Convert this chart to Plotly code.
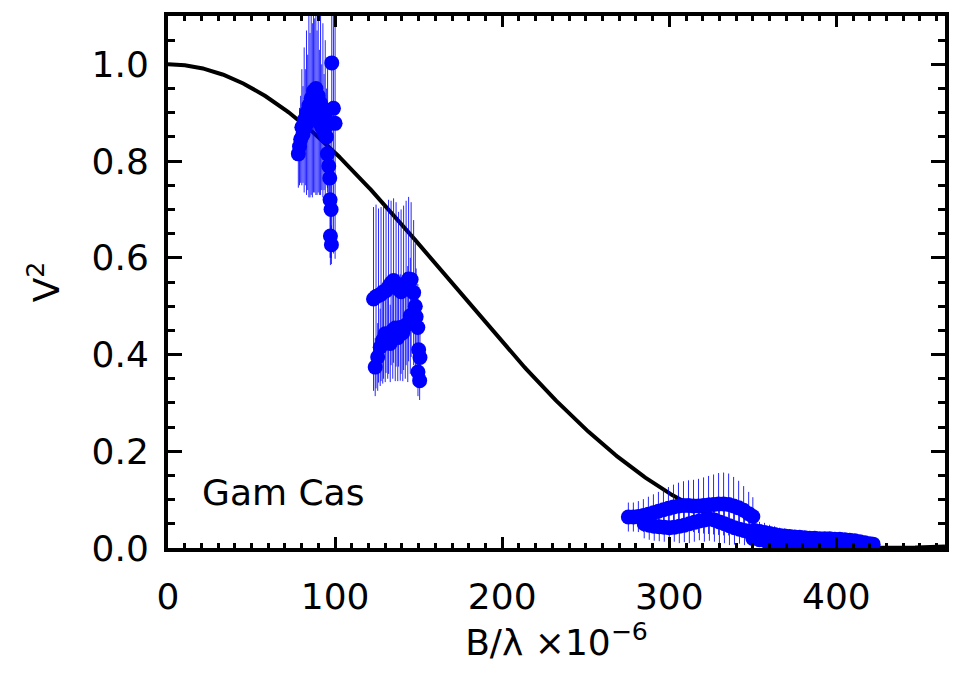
import numpy as np
import plotly.graph_objects as go

# Uniform-disk model: angular diameter in milliarcseconds
ud_diameter_mas = 0.585
star_name = "Gam Cas"

# Short-baseline group (B/lambda in units of 1e6)
b_short = [78.0, 78.7, 79.4, 80.1, 80.8, 81.5, 82.2, 82.9, 83.6, 84.3, 85.0, 85.7,
           86.4, 87.1, 87.8, 88.5, 89.2, 89.9, 90.6, 91.3, 92.0, 92.7, 93.4, 94.1,
           94.8, 95.5, 95.4, 96.2, 96.8, 97.0, 97.6, 97.2, 97.8, 98.0, 99.0, 100.0]
v2_short = [0.815, 0.830, 0.845, 0.870, 0.855, 0.885, 0.870, 0.900, 0.880, 0.915, 0.895, 0.930,
            0.905, 0.945, 0.915, 0.950, 0.900, 0.935, 0.880, 0.920, 0.870, 0.905, 0.860, 0.890,
            0.850, 0.875, 0.815, 0.790, 0.765, 0.720, 0.700, 0.645, 0.627, 1.003, 0.909, 0.878]
err_short = [0.07, 0.08, 0.09, 0.12, 0.10, 0.15, 0.12, 0.17, 0.14, 0.19, 0.17, 0.20,
             0.18, 0.21, 0.18, 0.22, 0.17, 0.20, 0.15, 0.19, 0.13, 0.18, 0.12, 0.16,
             0.10, 0.14, 0.07, 0.06, 0.06, 0.12, 0.10, 0.06, 0.04, 0.35, 0.30, 0.28]

# Mid-baseline group
b_mid = [123.0, 124.5, 126.0, 127.5, 129.0, 130.5, 132.0, 133.5, 135.0, 136.5, 138.0, 139.5,
         141.0, 142.5, 144.0, 145.5, 147.0, 148.0, 148.5, 149.5, 150.0, 150.8, 149.6, 150.6,
         124.0, 125.5, 127.0, 128.5, 130.0, 131.5, 133.0, 134.5, 136.0, 137.5, 139.0, 140.5,
         142.0, 143.5, 145.0]
v2_mid = [0.515, 0.520, 0.522, 0.525, 0.530, 0.532, 0.540, 0.548, 0.553, 0.545, 0.535, 0.530,
          0.538, 0.548, 0.556, 0.555, 0.528, 0.500, 0.478, 0.456, 0.410, 0.394, 0.364, 0.346,
          0.374, 0.395, 0.415, 0.430, 0.443, 0.440, 0.423, 0.450, 0.455, 0.435, 0.456, 0.445,
          0.460, 0.463, 0.480]
err_mid = [0.19, 0.19, 0.18, 0.18, 0.18, 0.17, 0.18, 0.17, 0.17, 0.17, 0.16, 0.17,
           0.17, 0.17, 0.17, 0.16, 0.15, 0.13, 0.10, 0.09, 0.07, 0.06, 0.05, 0.04,
           0.06, 0.07, 0.08, 0.09, 0.10, 0.09, 0.08, 0.10, 0.11, 0.09, 0.11, 0.10,
           0.11, 0.12, 0.12]

# Long-baseline group
b_long = [275.5, 278.5, 281.5, 284.5, 287.5, 290.5, 293.5, 296.5, 299.5, 302.5, 305.5, 308.5,
          311.5, 314.5, 317.5, 320.5, 323.5, 326.5, 329.5, 332.5, 335.5, 338.5, 341.5, 344.5,
          347.5, 350.0,
          285.0, 288.0, 291.0, 294.0, 297.0, 300.0, 303.0, 306.0, 309.0, 312.0, 315.0, 318.0,
          321.0, 324.0, 327.0, 330.0, 333.0, 336.0, 339.0, 342.0, 345.0, 348.0,
          351.0, 354.0, 357.0, 360.0, 363.0, 366.0, 369.0, 372.0, 375.0, 378.0, 381.0, 384.0,
          387.0, 390.0, 393.0, 396.0, 399.0, 402.0, 405.0, 408.0, 411.0, 414.0, 417.0, 420.0,
          422.0,
          350.0, 354.0, 358.0, 362.0, 366.0, 370.0, 374.0, 378.0, 382.0, 386.0, 390.0, 394.0,
          398.0, 402.0, 406.0, 410.0, 414.0, 418.0, 421.0]
v2_long = [0.064, 0.064, 0.065, 0.067, 0.070, 0.073, 0.076, 0.079, 0.082, 0.085, 0.087, 0.088,
           0.088, 0.087, 0.087, 0.088, 0.089, 0.090, 0.091, 0.091, 0.090, 0.087, 0.083, 0.078,
           0.071, 0.065,
           0.050, 0.047, 0.045, 0.044, 0.043, 0.042, 0.043, 0.045, 0.047, 0.050, 0.053, 0.056,
           0.058, 0.060, 0.058, 0.054, 0.050, 0.046, 0.042, 0.039, 0.036, 0.034,
           0.036, 0.034, 0.032, 0.030, 0.028, 0.026, 0.025, 0.024, 0.023, 0.022, 0.021, 0.020,
           0.020, 0.019, 0.019, 0.019, 0.018, 0.018, 0.017, 0.016, 0.015, 0.013, 0.011, 0.009,
           0.008,
           0.020, 0.017, 0.014, 0.012, 0.010, 0.009, 0.008, 0.007, 0.007, 0.006, 0.006, 0.006,
           0.005, 0.005, 0.005, 0.004, 0.004, 0.004, 0.004]
err_long = [0.030, 0.030, 0.032, 0.034, 0.036, 0.038, 0.040, 0.042, 0.044, 0.046, 0.048, 0.050,
            0.052, 0.054, 0.056, 0.058, 0.060, 0.062, 0.064, 0.065, 0.064, 0.060, 0.056, 0.050,
            0.045, 0.040,
            0.030, 0.030, 0.030, 0.030, 0.030, 0.030, 0.030, 0.035, 0.035, 0.040, 0.040, 0.040,
            0.045, 0.045, 0.045, 0.045, 0.040, 0.040, 0.035, 0.030, 0.030, 0.025,
            0.020, 0.020, 0.020, 0.018, 0.017, 0.016, 0.015, 0.014, 0.013, 0.012, 0.012, 0.011,
            0.011, 0.010, 0.010, 0.010, 0.010, 0.009, 0.009, 0.009, 0.008, 0.008, 0.007, 0.006,
            0.006,
            0.015, 0.013, 0.012, 0.010, 0.009, 0.008, 0.008, 0.007, 0.007, 0.006, 0.006, 0.006,
            0.005, 0.005, 0.005, 0.004, 0.004, 0.004, 0.004]

x_ticks = [0, 100, 200, 300, 400]
y_ticks = [0.0, 0.2, 0.4, 0.6, 0.8, 1.0]


def bessel_j1(z, terms=30):
    """Power-series Bessel J1, accurate over the plotted range."""
    total = np.zeros_like(z)
    fact_k = 1.0
    for k in range(terms):
        fact_k1 = fact_k * (k + 1)
        total += (-1) ** k * (z / 2.0) ** (2 * k + 1) / (fact_k * fact_k1)
        fact_k = fact_k1
    return total


mas_to_rad = np.pi / (180.0 * 3600.0 * 1000.0)
b_model = np.linspace(0.0, 465.0, 600)
arg = np.pi * ud_diameter_mas * mas_to_rad * b_model * 1e6
arg_safe = np.where(arg == 0, 1e-12, arg)
v2_model = (2.0 * bessel_j1(arg_safe) / arg_safe) ** 2

FONT = "DejaVu Sans"
BLUE = "#0000ff"

fig = go.Figure()

fig.add_trace(go.Scatter(
    x=b_model, y=v2_model, mode="lines",
    line=dict(color="black", width=4), showlegend=False, hoverinfo="skip",
))

for bx, vy, ey in [(b_short, v2_short, err_short),
                   (b_mid, v2_mid, err_mid),
                   (b_long, v2_long, err_long)]:
    fig.add_trace(go.Scatter(
        x=bx, y=vy, mode="markers",
        marker=dict(color=BLUE, size=15, line=dict(width=0)),
        error_y=dict(type="data", array=ey, visible=True,
                     color="rgba(0,0,255,0.85)", thickness=1, width=0),
        showlegend=False,
    ))

fig.add_annotation(
    x=19, y=0.115, xref="x", yref="y", text=star_name, showarrow=False,
    xanchor="left", yanchor="middle", font=dict(family=FONT, size=36, color="black"),
)

axis_common = dict(
    showline=True, linecolor="black", linewidth=4, mirror="allticks",
    ticks="inside", tickcolor="black", showgrid=False, zeroline=False,
    tickfont=dict(family=FONT, size=36, color="black"),
)

fig.update_xaxes(
    range=[0, 465], tickvals=x_ticks, ticklen=11, tickwidth=3,
    minor=dict(ticks="inside", dtick=10, ticklen=5, tickwidth=3, tickcolor="black"),
    title=dict(text="B/λ ×10<sup>−6</sup>", font=dict(family=FONT, size=36, color="black"),
               standoff=4),
    ticklabelstandoff=14,
    **axis_common,
)
fig.update_yaxes(
    range=[0, 1.1], tickvals=y_ticks, tickformat=".1f", ticklen=14, tickwidth=3,
    minor=dict(ticks="inside", dtick=0.05, ticklen=7, tickwidth=3, tickcolor="black"),
    title=dict(text="V<sup>2</sup>", font=dict(family=FONT, size=36, color="black"),
               standoff=22),
    ticklabelstandoff=8,
    **axis_common,
)

fig.update_layout(
    width=961, height=678,
    margin=dict(l=168, r=16, t=14, b=130),
    plot_bgcolor="white", paper_bgcolor="white",
    font=dict(family=FONT, size=36, color="black"),
)

fig.write_html("out.html")
